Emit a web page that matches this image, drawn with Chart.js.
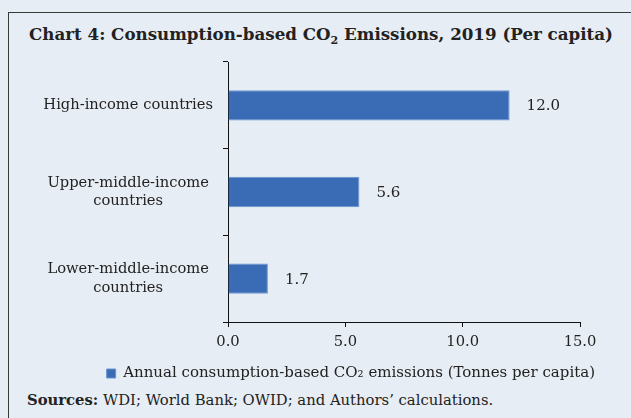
<!DOCTYPE html>
<html>
<head>
<meta charset="utf-8">
<script src="https://cdn.jsdelivr.net/npm/chart.js@4"></script>
<style>
  html, body { margin: 0; padding: 0; background: #e7edf4; }
  body { width: 631px; height: 418px; position: relative; overflow: hidden; font-family: "DejaVu Serif", serif; color: #222; }
  .frame { position: absolute; left: 8px; top: 12px; width: 640px; height: 430px; border: 1px solid #3a3a3a; box-sizing: border-box; }
  .title { position: absolute; left: 29px; top: 24px; font-weight: bold; font-size: 16.7px; white-space: nowrap; }
  .title sub { font-size: 11px; vertical-align: -4px; line-height: 0; }
  .wrap { position: absolute; left: 0; top: 50px; width: 631px; height: 341px; }
  .sources { position: absolute; left: 27px; top: 391px; font-size: 14.8px; white-space: nowrap; }
</style>
</head>
<body>
<div class="frame"></div>
<div class="title">Chart 4: Consumption-based CO<sub>2</sub> Emissions, 2019 (Per capita)</div>
<div class="wrap"><canvas id="chart"></canvas></div>
<div class="sources"><b>Sources:</b> WDI; World Bank; OWID; and Authors’ calculations.</div>
<script>
const categories = [
    ['High-income countries'],
    ['Upper-middle-income', 'countries'],
    ['Lower-middle-income', 'countries'],
];
const emissions = [12.0, 5.6, 1.7];
const seriesName = 'Annual consumption-based CO₂ emissions (Tonnes per capita)';
const xTicks = [0, 5, 10, 15];

const textColor = '#222';
const barColor = '#3a6bb5';

const valueLabels = {
    id: 'valueLabels',
    afterDatasetsDraw(chart) {
        const ctx = chart.ctx;
        const meta = chart.getDatasetMeta(0);
        ctx.save();
        ctx.font = '15px "DejaVu Serif"';
        ctx.fillStyle = textColor;
        ctx.textAlign = 'left';
        ctx.textBaseline = 'middle';
        meta.data.forEach((bar, i) => {
            ctx.fillText(emissions[i].toFixed(1), bar.x + 17, bar.y + 1);
        });
        ctx.restore();
    },
};

new Chart(document.getElementById('chart'), {
    type: 'bar',
    data: {
        labels: categories,
        datasets: [{
            label: seriesName,
            data: emissions,
            backgroundColor: barColor,
            borderColor: '#6b94d0',
            borderWidth: 1,
            barPercentage: 0.7,
            categoryPercentage: 0.5,
        }],
    },
    options: {
        indexAxis: 'y',
        responsive: true,
        maintainAspectRatio: false,
        animation: false,
        layout: { padding: { top: 12, right: 26, left: 0, bottom: 0 } },
        plugins: {
            legend: {
                position: 'bottom',
                align: 'end',
                labels: {
                    color: textColor,
                    boxWidth: 9,
                    boxHeight: 9,
                    padding: 10,
                    font: { family: 'DejaVu Serif', size: 15 },
                },
            },
            tooltip: { enabled: false },
        },
        scales: {
            x: {
                min: 0,
                max: 15,
                afterBuildTicks: s => { s.ticks = xTicks.map(v => ({ value: v })); },
                afterFit: s => { s.paddingRight = 51; s.height = 34; },
                ticks: {
                    color: textColor,
                    padding: 6,
                    font: { family: 'DejaVu Serif', size: 14.7 },
                    callback: v => Number(v).toFixed(1),
                },
                grid: { drawOnChartArea: false, drawTicks: true, tickLength: 5, color: '#111' },
                border: { display: true, color: '#111' },
            },
            y: {
                afterFit: s => { s.width = 228; s.paddingTop = 0; s.paddingBottom = 0; },
                ticks: {
                    color: textColor,
                    padding: 10,
                    crossAlign: 'center',
                    font: { family: 'DejaVu Serif', size: 14.7, lineHeight: 1.25 },
                },
                grid: { drawOnChartArea: false, drawTicks: true, tickLength: 5, color: '#111', offset: true },
                border: { display: true, color: '#111' },
            },
        },
    },
    plugins: [valueLabels],
});
</script>
</body>
</html>
